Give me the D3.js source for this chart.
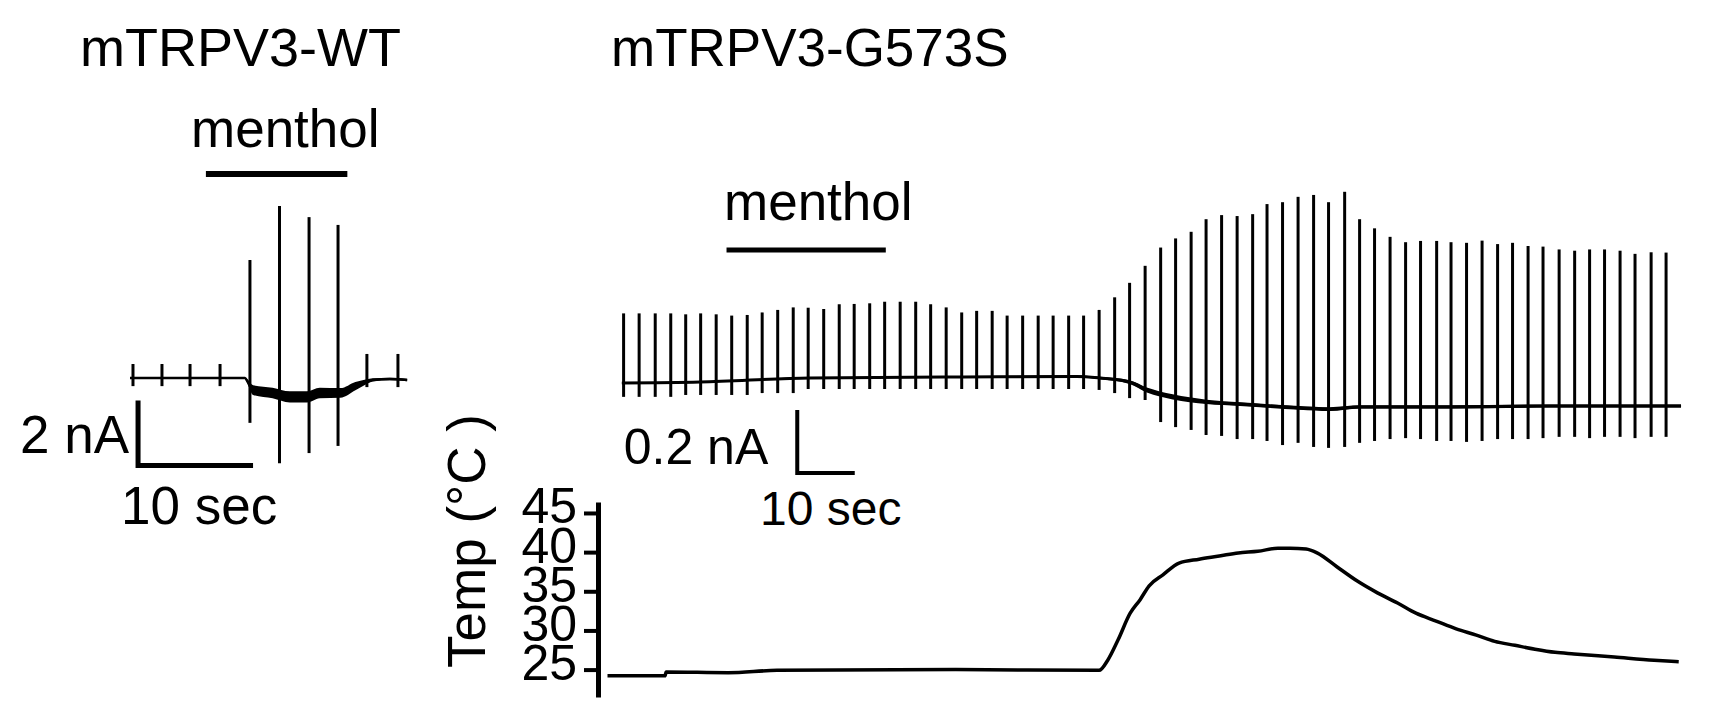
<!DOCTYPE html>
<html><head><meta charset="utf-8">
<script src="https://cdn.jsdelivr.net/npm/d3@7"></script>
<style>
html,body{margin:0;padding:0;background:#fff;}
svg text{font-family:"Liberation Sans",Arial,Helvetica,sans-serif;fill:#000;}
</style></head><body>
<svg id="chart" width="1720" height="715"></svg>
<script>
// ================= DATA =================
const panelTitles = ["mTRPV3-WT", "mTRPV3-G573S"];
const drugLabel = "menthol";

// ---- WT whole-cell trace (time in s, current in nA) ----
const wtBaseTime    = [0, 10.0, 10.2, 10.7, 12.4, 13.9, 15.4, 16.5, 18.3, 19.6, 20.3, 21.1, 22.6, 24.1];
const wtBaseCurrent = [0, 0, -0.10, -0.37, -0.46, -0.58, -0.58, -0.46, -0.46, -0.25, -0.15, -0.06, -0.03, -0.06];
const wtNoise       = [0.01, 0.01, 0.06, 0.15, 0.16, 0.17, 0.17, 0.16, 0.15, 0.13, 0.09, 0.05, 0.04, 0.04];
const wtPulseTime   = [0.26, 2.78, 5.22, 7.83, 10.43, 13.0, 15.57, 18.09, 20.6, 23.3];
const wtPulsePeak   = [0.43, 0.43, 0.43, 0.43, 3.63, 5.29, 4.95, 4.71, 0.74, 0.74];
const wtPulseTrough = [-0.25, -0.25, -0.25, -0.25, -1.38, -2.62, -2.31, -2.09, -0.28, -0.28];
const wtMenthol     = [6.6, 18.9];
const wtScaleBar    = {t: 0.7, i: -2.69, dt: 10, di: 2, tLabel: "10 sec", iLabel: "2 nA"};

// ---- G573S trace (time in s, current in nA) ----
const gsBaseTime    = [2.5, 16.1, 35.2, 61.8, 81.6, 85.6, 90.8, 93.8, 98.3, 104.2, 110.0, 120.4, 125.6, 130.8, 146.5, 163.9, 186.7];
const gsBaseCurrent = [0, 0.003, 0.016, 0.019, 0.021, 0.016, 0.003, -0.022, -0.044, -0.060, -0.067, -0.079, -0.083, -0.076, -0.076, -0.073, -0.073];
const gsNoise       = [0.002, 0.002, 0.002, 0.002, 0.003, 0.004, 0.006, 0.008, 0.008, 0.007, 0.006, 0.006, 0.006, 0.005, 0.005, 0.005, 0.005];
const gsPulseTime = [2.8,5.5,8.3,11.0,13.6,16.2,18.9,21.6,24.3,26.9,29.6,32.3,34.9,37.6,40.3,42.9,45.6,48.2,50.9,53.6,
  56.2,58.9,61.6,64.2,66.9,69.5,72.2,74.9,77.5,80.2,82.8,85.5,88.2,90.8,93.5,96.2,98.8,101.5,104.1,106.8,
  109.5,112.2,114.7,117.4,120.1,122.8,125.4,128.2,130.8,133.4,136.1,138.8,141.4,144.2,146.7,149.4,152.1,154.8,157.4,160.1,
  162.7,165.5,168.2,170.8,173.4,176.1,178.7,181.5,184.1];
const gsPulsePeak = [0.221,0.221,0.221,0.221,0.218,0.221,0.218,0.214,0.216,0.224,
  0.232,0.240,0.239,0.235,0.250,0.251,0.253,0.258,0.258,0.258,
  0.250,0.240,0.224,0.229,0.229,0.214,0.214,0.214,0.214,0.214,
  0.214,0.232,0.272,0.318,0.372,0.430,0.459,0.480,0.520,0.533,
  0.530,0.536,0.568,0.574,0.591,0.597,0.574,0.607,0.520,0.491,
  0.464,0.447,0.451,0.451,0.447,0.445,0.452,0.441,0.445,0.435,
  0.433,0.424,0.420,0.424,0.424,0.420,0.410,0.415,0.414];
const gsPulseTrough = [-0.044,-0.044,-0.044,-0.044,-0.038,-0.038,-0.038,-0.038,-0.038,-0.032,
  -0.032,-0.032,-0.019,-0.019,-0.019,-0.019,-0.019,-0.019,-0.019,-0.019,
  -0.019,-0.019,-0.019,-0.019,-0.019,-0.019,-0.019,-0.019,-0.019,-0.019,
  -0.019,-0.022,-0.032,-0.048,-0.054,-0.124,-0.140,-0.149,-0.165,-0.168,
  -0.178,-0.178,-0.184,-0.197,-0.190,-0.203,-0.206,-0.203,-0.190,-0.184,
  -0.178,-0.175,-0.178,-0.184,-0.184,-0.187,-0.184,-0.178,-0.178,-0.178,
  -0.175,-0.171,-0.171,-0.175,-0.171,-0.171,-0.175,-0.171,-0.171];
const gsMenthol  = [20.7, 48.4];
const gsScaleBar = {t: 33.0, i: -0.286, dt: 10, di: 0.2, tLabel: "10 sec", iLabel: "0.2 nA"};

// ---- Bath temperature (time in s, °C) ----
const tempTime = [0, 10.0, 10.2, 21.0, 29.5, 60.6, 85.5, 87.0, 88.8, 90.9, 92.6, 94.2, 96.6, 99.4, 102.9, 106.4, 109.7,
  113.1, 116.6, 118.7, 121.5, 123.4, 126.9, 130.4, 133.9, 137.4, 140.6, 144.1, 147.6, 151.1, 154.3, 157.8, 161.3,
  164.8, 168.1, 175.1, 182.0, 186.3];
const tempValue = [24.2, 24.2, 24.7, 24.6, 24.9, 25.0, 24.9, 26.2, 28.8, 32.2, 33.9, 35.7, 37.1, 38.6, 39.1, 39.5, 39.9,
  40.1, 40.5, 40.5, 40.4, 39.9, 38.1, 36.3, 34.8, 33.5, 32.2, 31.2, 30.2, 29.4, 28.6, 28.1, 27.6,
  27.2, 27.0, 26.6, 26.2, 26.0];
const tempTicks = [25, 30, 35, 40, 45];
const tempAxisLabel = "Temp (°C )";

// ================= DRAWING =================
const svg = d3.select("#chart");
const FS = 53;

// scales
const xL = d3.scaleLinear().domain([0, 10]).range([130, 245]);
const yL = d3.scaleLinear().domain([0, 2]).range([378, 313]);
const xR = d3.scaleLinear().domain([0, 10]).range([607.5, 665]);
const yR = d3.scaleLinear().domain([0, 0.2]).range([383, 320]);
const yT = d3.scaleLinear().domain([21.5, 46.4]).range([697, 502]);

function drawTrace(g, x, y, times, cur, noise, pt, pk, tr, sw, pulseW) {
  const pts = times.map((t, i) => ({t, c: cur[i], n: noise[i]}));
  g.append("path").datum(pts)
    .attr("d", d3.area().x(d => x(d.t)).y0(d => y(d.c - d.n)).y1(d => y(d.c + d.n)).curve(d3.curveMonotoneX))
    .attr("fill", "#000");
  g.append("path").datum(pts)
    .attr("d", d3.line().x(d => x(d.t)).y(d => y(d.c)).curve(d3.curveMonotoneX))
    .attr("fill", "none").attr("stroke", "#000").attr("stroke-width", sw);
  const pulses = pt.map((t, i) => ({t, p: pk[i], q: tr[i]}));
  g.selectAll("line.pulse").data(pulses).join("line").attr("class", "pulse")
    .attr("x1", d => x(d.t)).attr("x2", d => x(d.t))
    .attr("y1", d => y(d.p)).attr("y2", d => y(d.q))
    .attr("stroke", "#000").attr("stroke-width", pulseW);
}

function drawScaleBar(g, x, y, sb, sw) {
  const x0 = x(sb.t), y0 = y(sb.i), x1 = x(sb.t + sb.dt), y1 = y(sb.i + sb.di);
  g.append("path").attr("d", `M${x0},${y1}V${y0}H${x1}`)
    .attr("fill", "none").attr("stroke", "#000").attr("stroke-width", sw).attr("stroke-linecap", "butt");
  return {x0, y0, x1, y1};
}

// ---------- WT panel ----------
const gL = svg.append("g");
gL.append("text").attr("x", 80).attr("y", 66).attr("font-size", 54).text(panelTitles[0]);
gL.append("text").attr("x", 191).attr("y", 147).attr("font-size", FS).text(drugLabel);
gL.append("line").attr("x1", xL(wtMenthol[0])).attr("x2", xL(wtMenthol[1]))
  .attr("y1", 174).attr("y2", 174).attr("stroke", "#000").attr("stroke-width", 6);
drawTrace(gL, xL, yL, wtBaseTime, wtBaseCurrent, wtNoise, wtPulseTime, wtPulsePeak, wtPulseTrough, 2.5, 3);
const sbL = drawScaleBar(gL, xL, yL, wtScaleBar, 5);
gL.append("text").attr("x", sbL.x0 - 9).attr("y", 453).attr("text-anchor", "end").attr("font-size", FS).text(wtScaleBar.iLabel);
gL.append("text").attr("x", 121).attr("y", 524).attr("font-size", FS).text(wtScaleBar.tLabel);

// ---------- G573S panel ----------
const gR = svg.append("g");
gR.append("text").attr("x", 611).attr("y", 66).attr("font-size", FS).text(panelTitles[1]);
gR.append("text").attr("x", 724).attr("y", 220).attr("font-size", FS).text(drugLabel);
gR.append("line").attr("x1", xR(gsMenthol[0])).attr("x2", xR(gsMenthol[1]))
  .attr("y1", 250).attr("y2", 250).attr("stroke", "#000").attr("stroke-width", 5);
drawTrace(gR, xR, yR, gsBaseTime, gsBaseCurrent, gsNoise, gsPulseTime, gsPulsePeak, gsPulseTrough, 3, 3);
const sbR = drawScaleBar(gR, xR, yR, gsScaleBar, 4);
gR.append("text").attr("x", sbR.x0 - 29).attr("y", 464).attr("text-anchor", "end").attr("font-size", 50).text(gsScaleBar.iLabel);
gR.append("text").attr("x", 760).attr("y", 525).attr("font-size", 48).text(gsScaleBar.tLabel);

// ---------- Temperature ----------
const gT = svg.append("g").attr("transform", "translate(598,0)");
gT.call(d3.axisLeft(yT).tickValues(tempTicks).tickSize(14).tickSizeOuter(0).tickPadding(7).tickFormat(d3.format("d")));
gT.select(".domain").attr("stroke", "#000").attr("stroke-width", 5);
gT.selectAll(".tick line").attr("stroke", "#000").attr("stroke-width", 4);
gT.selectAll(".tick text").attr("font-size", 50).attr("dy", "0.2em")
  .attr("font-family", '"Liberation Sans",Arial,Helvetica,sans-serif').attr("fill", "#000");
svg.append("text").attr("transform", "translate(485,541) rotate(-90)")
  .attr("text-anchor", "middle").attr("font-size", FS).text(tempAxisLabel);

const tempPts = tempTime.map((t, i) => ({t, v: tempValue[i]}));
svg.append("path").datum(tempPts)
  .attr("d", d3.line().x(d => xR(d.t)).y(d => yT(d.v)).curve(d3.curveMonotoneX))
  .attr("fill", "none").attr("stroke", "#000").attr("stroke-width", 3.5);
</script>
</body></html>
